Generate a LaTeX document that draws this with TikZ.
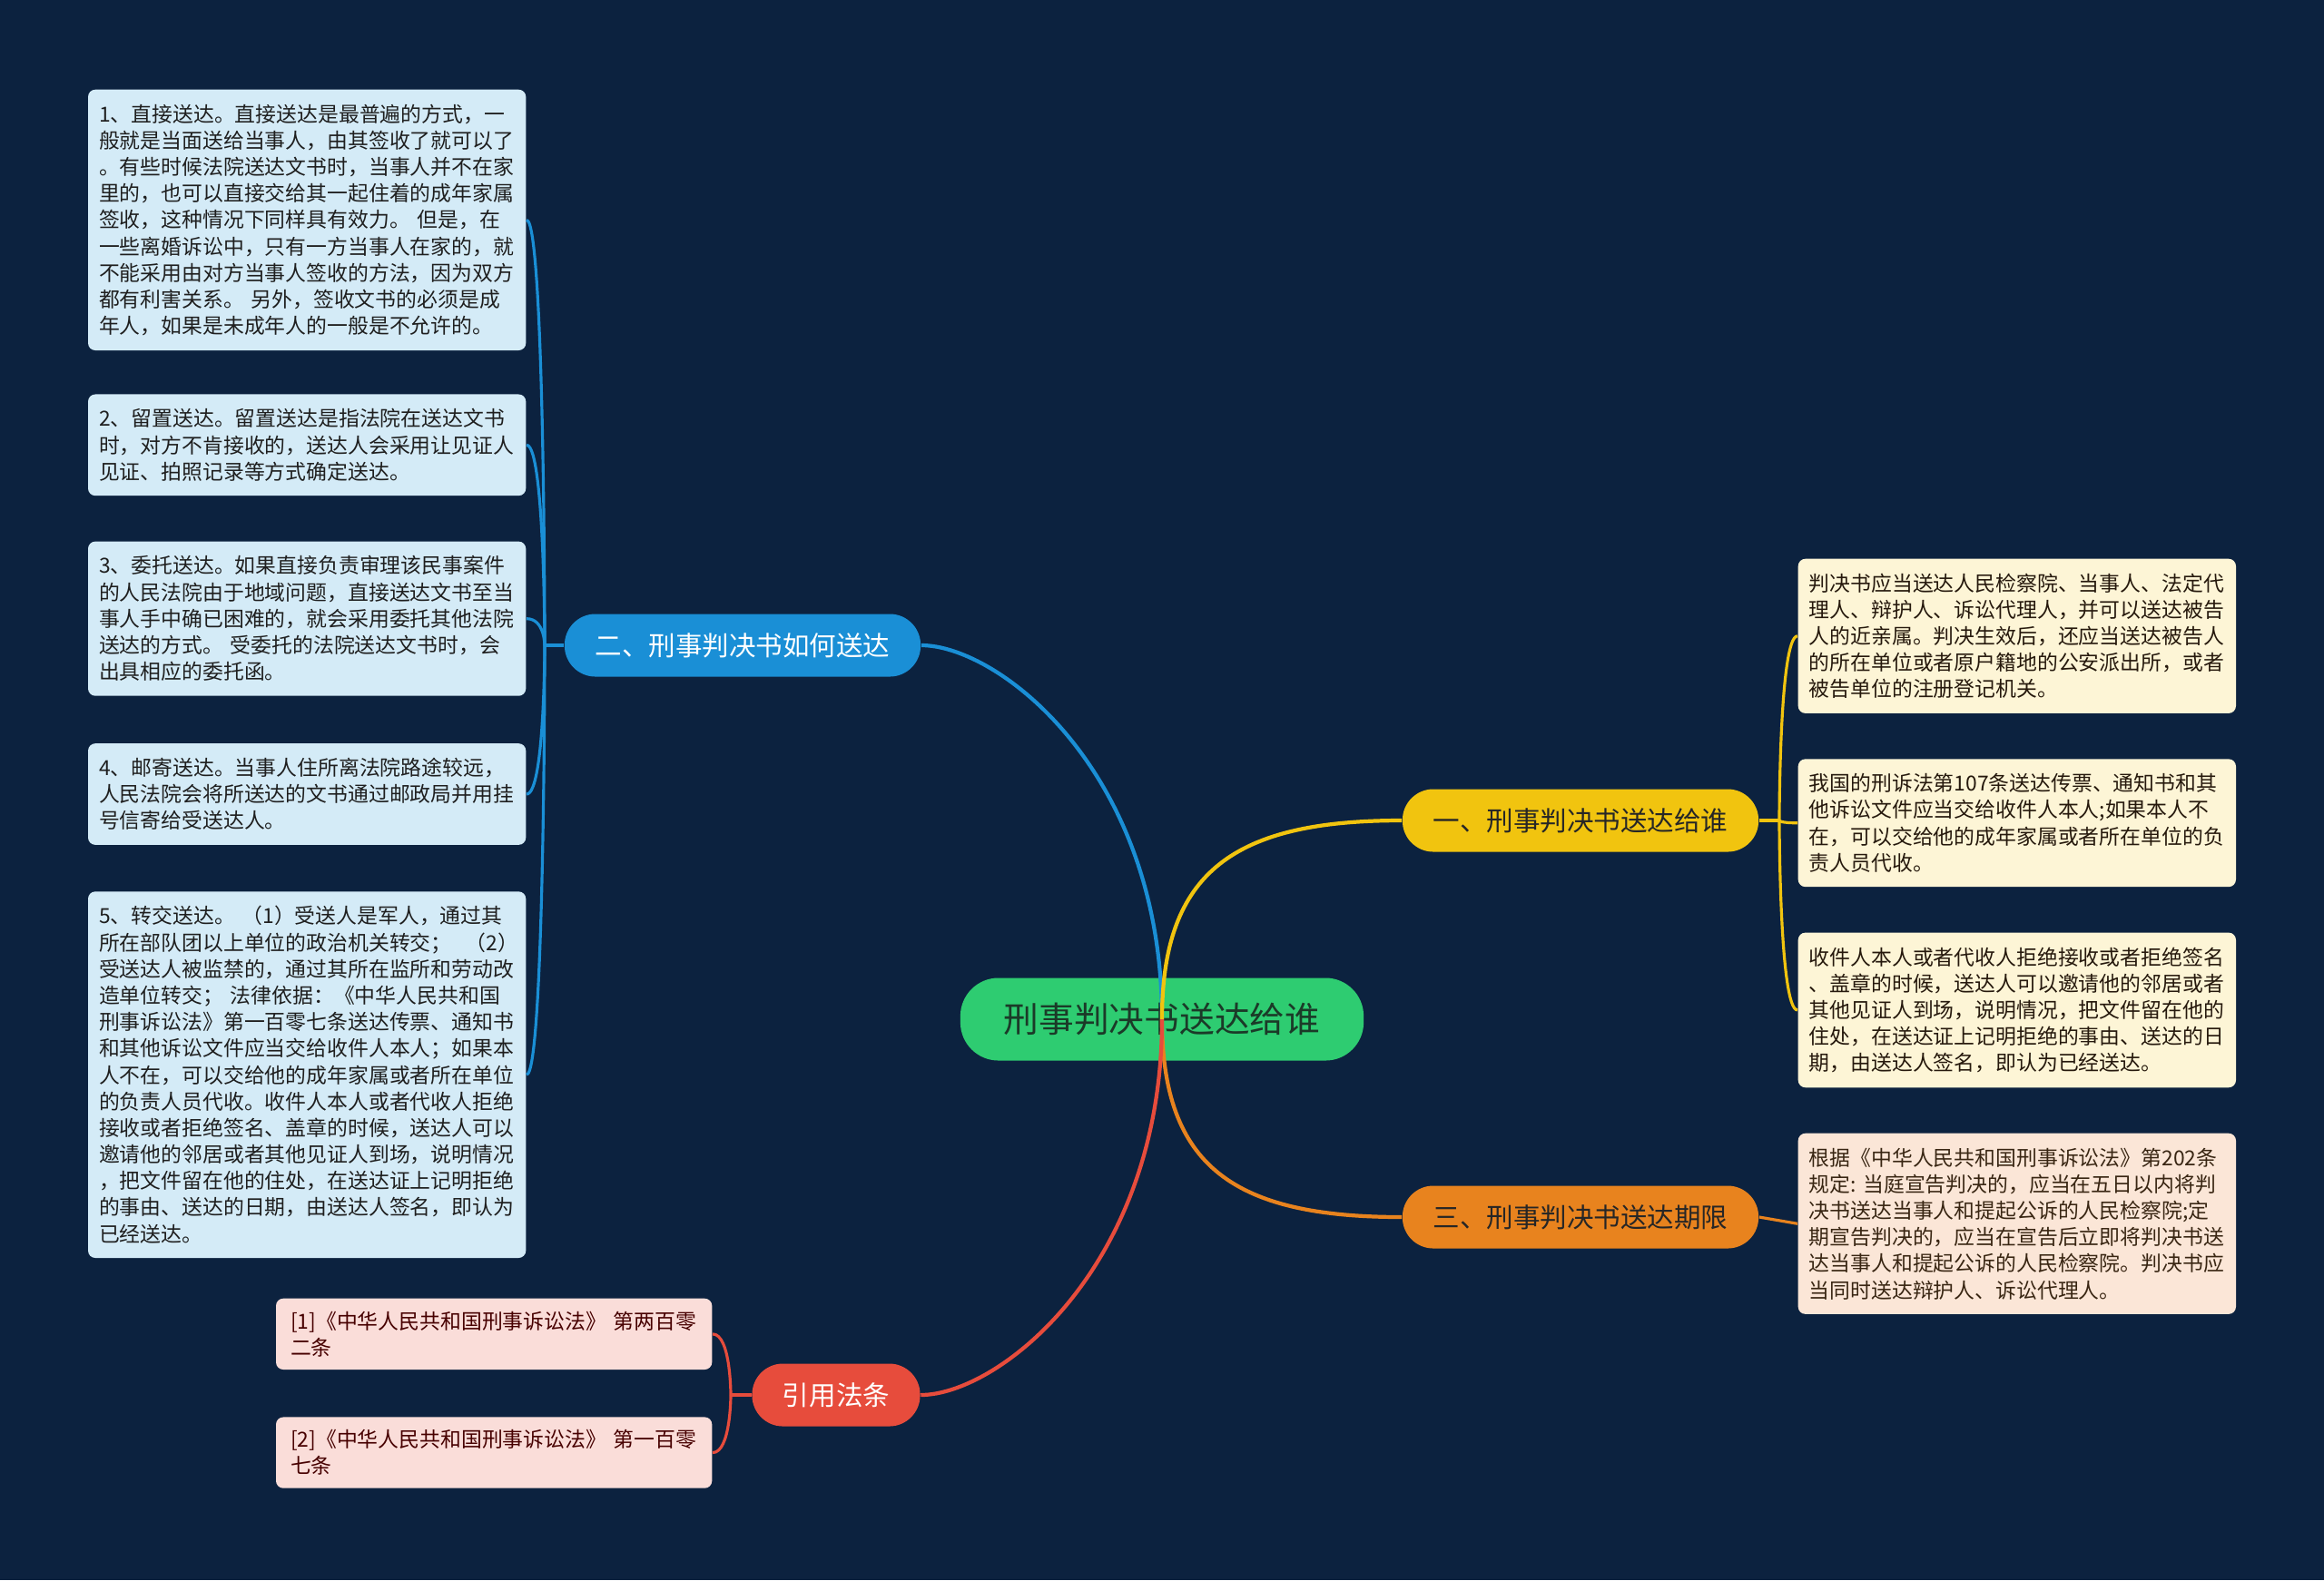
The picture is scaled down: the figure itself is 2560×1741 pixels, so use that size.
\documentclass[tikz,border=0pt]{standalone}
\usepackage{fontspec}
\setmainfont{Noto Sans CJK SC}
\usepackage{xcolor}
\usepackage{tikz}
\usetikzlibrary{positioning, calc}

\definecolor{bgnavy}{HTML}{0C223F}
\definecolor{rootgreen}{HTML}{2ECC71}
\definecolor{rootink}{HTML}{1B3A28}
\definecolor{topicblue}{HTML}{1A8FD6}
\definecolor{leafblue}{HTML}{D4EBF7}
\definecolor{topicyellow}{HTML}{F1C40F}
\definecolor{leafcream}{HTML}{FDF5D6}
\definecolor{topicorange}{HTML}{E8831E}
\definecolor{leafpeach}{HTML}{FBE6D7}
\definecolor{topicred}{HTML}{E74C3C}
\definecolor{leafpink}{HTML}{FADDD9}

\begin{document}
\begin{tikzpicture}[
    x=0.01cm, y=-0.01cm,
    node distance=0.49cm,
    root/.style={rectangle, rounded corners=0.42cm, fill=rootgreen, text=rootink, minimum width=4.44cm, minimum height=0.91cm, font=\fontsize{11pt}{13pt}\selectfont},
    topic/.style={rectangle, rounded corners=0.34cm, minimum width=3.92cm, minimum height=0.69cm, font=\fontsize{8.4pt}{10pt}\selectfont},
    leaf/.style={rectangle, rounded corners=0.08cm, text width=4.58cm, inner xsep=0.12cm, inner ysep=0.16cm, align=left, font=\fontsize{6.5pt}{8.3pt}\selectfont},
    link/.style={line width=1.2pt},
    twig/.style={line width=0.9pt}
]

\fill[bgnavy] (0,0) rectangle (2560,1741);

% centre and main topics
\node[root] (root) at (1280,1123) {刑事判决书送达给谁};
\node[topic, fill=topicblue, text=white] (howto) at (818,711) {二、刑事判决书如何送达};
\node[topic, fill=topicyellow, text=black!85] (towhom) at (1741,904) {一、刑事判决书送达给谁};
\node[topic, fill=topicorange, text=black!85] (limit) at (1741,1341) {三、刑事判决书送达期限};
\node[topic, fill=topicred, text=white, minimum width=1.85cm] (cite) at (921,1537) {引用法条};

% left leaves
\node[leaf, fill=leafblue, text=black!88, anchor=north east] (l1) at (580,98) {1、直接送达。直接送达是最普遍的方式，一\\般就是当面送给当事人，由其签收了就可以了\\。有些时候法院送达文书时，当事人并不在家\\里的，也可以直接交给其一起住着的成年家属\\签收，这种情况下同样具有效力。~但是，在\\一些离婚诉讼中，只有一方当事人在家的，就\\不能采用由对方当事人签收的方法，因为双方\\都有利害关系。~另外，签收文书的必须是成\\年人，如果是未成年人的一般是不允许的。};
\node[leaf, fill=leafblue, text=black!88, below=0.47cm of l1] (l2) {2、留置送达。留置送达是指法院在送达文书\\时，对方不肯接收的，送达人会采用让见证人\\见证、拍照记录等方式确定送达。};
\node[leaf, fill=leafblue, text=black!88, below=0.49cm of l2] (l3) {3、委托送达。如果直接负责审理该民事案件\\的人民法院由于地域问题，直接送达文书至当\\事人手中确已困难的，就会采用委托其他法院\\送达的方式。~受委托的法院送达文书时，会\\出具相应的委托函。};
\node[leaf, fill=leafblue, text=black!88, below=0.51cm of l3] (l4) {4、邮寄送达。当事人住所离法院路途较远，\\人民法院会将所送达的文书通过邮政局并用挂\\号信寄给受送达人。};
\node[leaf, fill=leafblue, text=black!88, below=0.50cm of l4] (l5) {5、转交送达。~（1）受送人是军人，通过其\\所在部队团以上单位的政治机关转交；~~（2）\\受送达人被监禁的，通过其所在监所和劳动改\\造单位转交；~法律依据：《中华人民共和国\\刑事诉讼法》第一百零七条送达传票、通知书\\和其他诉讼文件应当交给收件人本人；如果本\\人不在，可以交给他的成年家属或者所在单位\\的负责人员代收。收件人本人或者代收人拒绝\\接收或者拒绝签名、盖章的时候，送达人可以\\邀请他的邻居或者其他见证人到场，说明情况\\，把文件留在他的住处，在送达证上记明拒绝\\的事由、送达的日期，由送达人签名，即认为\\已经送达。};

% right leaves
\node[leaf, fill=leafcream, text=black!80!brown, anchor=north west] (r1) at (1980,615) {判决书应当送达人民检察院、当事人、法定代\\理人、辩护人、诉讼代理人，并可以送达被告\\人的近亲属。判决生效后，还应当送达被告人\\的所在单位或者原户籍地的公安派出所，或者\\被告单位的注册登记机关。};
\node[leaf, fill=leafcream, text=black!80!brown, below=of r1] (r2) {我国的刑诉法第107条送达传票、通知书和其\\他诉讼文件应当交给收件人本人;如果本人不\\在，可以交给他的成年家属或者所在单位的负\\责人员代收。};
\node[leaf, fill=leafcream, text=black!80!brown, below=of r2] (r3) {收件人本人或者代收人拒绝接收或者拒绝签名\\、盖章的时候，送达人可以邀请他的邻居或者\\其他见证人到场，说明情况，把文件留在他的\\住处，在送达证上记明拒绝的事由、送达的日\\期，由送达人签名，即认为已经送达。};
\node[leaf, fill=leafpeach, text=black!70!brown, below=of r3] (r4) {根据《中华人民共和国刑事诉讼法》第202条\\规定:~当庭宣告判决的，应当在五日以内将判\\决书送达当事人和提起公诉的人民检察院;定\\期宣告判决的，应当在宣告后立即将判决书送\\达当事人和提起公诉的人民检察院。判决书应\\当同时送达辩护人、诉讼代理人。};

% cited laws
\node[leaf, fill=leafpink, text=black!72!red, inner ysep=0.14cm, inner xsep=0.16cm, text width=4.48cm, anchor=north east] (b1) at (785,1430) {[1]《中华人民共和国刑事诉讼法》~第两百零\\二条};
\node[leaf, fill=leafpink, text=black!72!red, inner ysep=0.14cm, inner xsep=0.16cm, text width=4.48cm, below=0.51cm of b1] (b2) {[2]《中华人民共和国刑事诉讼法》~第一百零\\七条};

% main links
\draw[link, topicblue] (root.center) .. controls (1280,850) and (1100,711) .. (howto.east);
\draw[link, topicyellow] (root.center) .. controls (1280,960) and (1360,904) .. (towhom.west);
\draw[link, topicorange] (root.center) .. controls (1280,1286) and (1360,1341) .. (limit.west);
\draw[link, topicred] (root.center) .. controls (1280,1396) and (1100,1537) .. (cite.east);

% brackets
\coordinate (lk) at (600,711);
\draw[twig, topicblue] (howto.west) -- (lk);
\foreach \n in {l1,l2,l3,l4,l5}
    \draw[twig, topicblue] (lk) .. controls (lk) and (lk |- \n.east) .. (\n.east);

\coordinate (rk) at (1960,904);
\draw[twig, topicyellow] (towhom.east) -- (rk);
\foreach \n in {r1,r2,r3}
    \draw[twig, topicyellow] (rk) .. controls (rk) and (rk |- \n.west) .. (\n.west);

\draw[twig, topicorange] (limit.east) -- (r4.west);

\coordinate (bk) at (805,1537);
\draw[twig, topicred] (cite.west) -- (bk);
\foreach \n in {b1,b2}
    \draw[twig, topicred] (bk) .. controls (bk) and (bk |- \n.east) .. (\n.east);

\end{tikzpicture}
\end{document}
